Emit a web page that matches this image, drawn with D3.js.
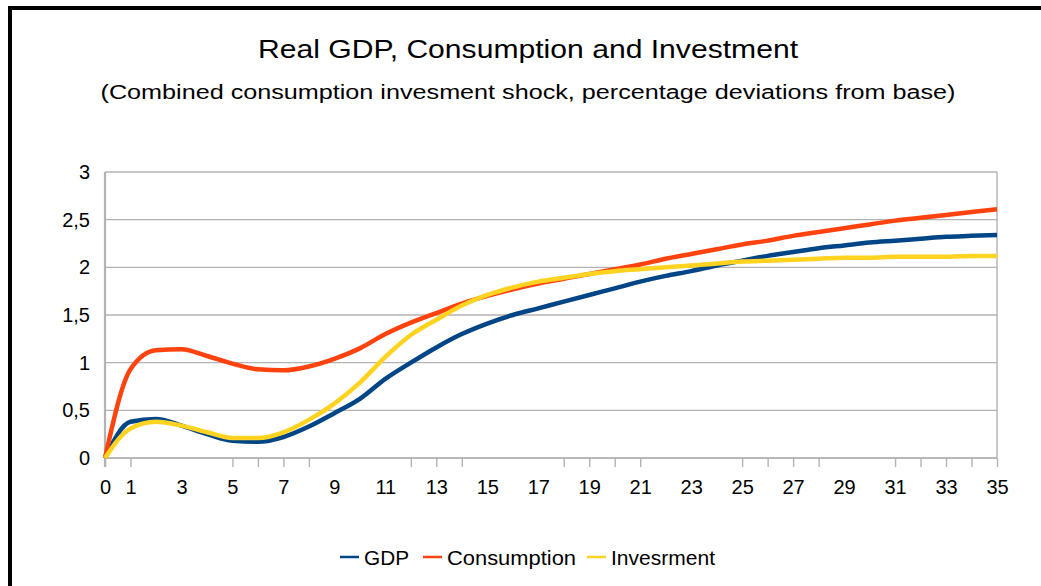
<!DOCTYPE html>
<html>
<head>
<meta charset="utf-8">
<script src="https://cdn.jsdelivr.net/npm/d3@7"></script>
<style>
  body { margin: 0; background: #fff; }
  svg { display: block; font-family: "Liberation Sans", Arial, sans-serif; }
</style>
</head>
<body>
<div id="chart"></div>
<script>
// -------- Data --------
const periods = d3.range(0, 36);

const gdp = [0, 0.38, 0.41, 0.34, 0.25, 0.18, 0.17, 0.22, 0.33, 0.47,
  0.62, 0.83, 1.00, 1.16, 1.30, 1.41, 1.50, 1.57, 1.64, 1.71,
  1.78, 1.85, 1.91, 1.96, 2.02, 2.07, 2.12, 2.16, 2.20, 2.23,
  2.26, 2.28, 2.30, 2.32, 2.33, 2.34];

const consumption = [0, 0.93, 1.13, 1.14, 1.07, 0.99, 0.93, 0.92, 0.96, 1.04,
  1.15, 1.30, 1.42, 1.52, 1.62, 1.70, 1.77, 1.83, 1.88, 1.93,
  1.98, 2.03, 2.09, 2.14, 2.19, 2.24, 2.28, 2.33, 2.37, 2.41,
  2.45, 2.49, 2.52, 2.55, 2.58, 2.61];

const investment = [0, 0.31, 0.38, 0.34, 0.27, 0.21, 0.21, 0.27, 0.40, 0.57,
  0.79, 1.06, 1.29, 1.45, 1.60, 1.71, 1.79, 1.85, 1.89, 1.93,
  1.96, 1.98, 2.00, 2.02, 2.04, 2.06, 2.07, 2.08, 2.09, 2.10,
  2.10, 2.11, 2.11, 2.11, 2.12, 2.12];

const seriesNames = ["GDP", "Consumption", "Invesrment"];
const seriesColors = ["#004586", "#ff420e", "#ffd320"];

const yTicks = [0, 0.5, 1, 1.5, 2, 2.5, 3];
const xTickMarks = [0, 1, 5, 6, 7, 8, 12, 13, 14, 18, 19, 20, 21, 25, 26, 27, 28, 31, 32, 33, 34, 35];
const xTickLabels = [0, 1, 3, 5, 7, 9, 11, 13, 15, 17, 19, 21, 23, 25, 27, 29, 31, 33, 35];

const titleText = "Real GDP, Consumption and Investment";
const subtitleText = "(Combined consumption invesment shock, percentage deviations from base)";

// -------- Layout --------
const width = 1041;
const height = 586;

const svg = d3.select("#chart")
  .append("svg")
  .attr("width", width)
  .attr("height", height);

const x = d3.scaleLinear().domain([0, 35]).range([105, 997]);
const y = d3.scaleLinear().domain([0, 3]).range([458, 172]);

// frame (left + top only, like the screenshot)
svg.append("path")
  .attr("d", `M10,${height} V8 H${width}`)
  .attr("fill", "none")
  .attr("stroke", "#000")
  .attr("stroke-width", 4);

// -------- Titles --------
// the original text is rendered wide, so stretch the glyphs a bit
svg.append("text")
  .attr("x", 528)
  .attr("y", 58)
  .attr("text-anchor", "middle")
  .attr("font-size", 25)
  .attr("textLength", 540)
  .attr("lengthAdjust", "spacingAndGlyphs")
  .text(titleText);

svg.append("text")
  .attr("x", 528)
  .attr("y", 99)
  .attr("text-anchor", "middle")
  .attr("font-size", 20)
  .attr("textLength", 855)
  .attr("lengthAdjust", "spacingAndGlyphs")
  .text(subtitleText);

// -------- Grid --------
svg.append("g")
  .selectAll("line")
  .data(yTicks)
  .join("line")
  .attr("x1", x(0))
  .attr("x2", x(35))
  .attr("y1", d => y(d))
  .attr("y2", d => y(d))
  .attr("stroke", "#b3b3b3")
  .attr("stroke-width", 1.4);

// right border of plot area
svg.append("line")
  .attr("x1", x(35)).attr("x2", x(35))
  .attr("y1", y(3)).attr("y2", y(0))
  .attr("stroke", "#b3b3b3")
  .attr("stroke-width", 1.4);

// -------- Axes --------
const yAxis = svg.append("g")
  .attr("transform", `translate(${x(0)},0)`)
  .call(d3.axisLeft(y).tickValues(yTicks).tickSize(0).tickPadding(15)
    .tickFormat(d => String(d).replace(".", ",")));
yAxis.select(".domain").remove();
yAxis.selectAll("text")
  .attr("font-size", 20)
  .attr("fill", "#000")
  .attr("font-family", "Liberation Sans, Arial, sans-serif");

// tick marks (irregular, like the original)
const xMarks = svg.append("g")
  .attr("transform", `translate(0,${y(0)})`)
  .call(d3.axisBottom(x).tickValues(xTickMarks).tickSize(9).tickFormat(""));
xMarks.select(".domain").remove();
xMarks.selectAll("line").attr("stroke", "#b3b3b3").attr("stroke-width", 1.4);

const xLabels = svg.append("g")
  .attr("transform", `translate(0,${y(0)})`)
  .call(d3.axisBottom(x).tickValues(xTickLabels).tickSize(0).tickPadding(22));
xLabels.select(".domain").remove();
xLabels.selectAll("text")
  .attr("font-size", 20)
  .attr("fill", "#000")
  .attr("font-family", "Liberation Sans, Arial, sans-serif");

// axis lines
svg.append("line")
  .attr("x1", x(0)).attr("x2", x(35))
  .attr("y1", y(0)).attr("y2", y(0))
  .attr("stroke", "#b3b3b3").attr("stroke-width", 1.6);
svg.append("line")
  .attr("x1", x(0)).attr("x2", x(0))
  .attr("y1", y(3)).attr("y2", y(0) + 9)
  .attr("stroke", "#b3b3b3").attr("stroke-width", 2.2);

// -------- Lines --------
const line = d3.line()
  .x((d, i) => x(periods[i]))
  .y(d => y(d))
  .curve(d3.curveMonotoneX);

// investment is drawn last in the original (sits on top)
const allSeries = [gdp, consumption, investment];

svg.append("g")
  .selectAll("path")
  .data(allSeries)
  .join("path")
  .attr("d", line)
  .attr("fill", "none")
  .attr("stroke", (d, i) => seriesColors[i])
  .attr("stroke-width", 4.5)
  .attr("stroke-linejoin", "round");

// -------- Legend --------
const legendX = [340, 423, 587];
const legendTextLen = [45, 129, 104];

const legend = svg.append("g")
  .selectAll("g")
  .data(seriesNames)
  .join("g")
  .attr("transform", (d, i) => `translate(${legendX[i]},557)`);

legend.append("line")
  .attr("x1", 0).attr("x2", 19)
  .attr("stroke", (d, i) => seriesColors[i])
  .attr("stroke-width", 2.5);

legend.append("text")
  .attr("x", 24)
  .attr("y", 8)
  .attr("font-size", 20)
  .attr("textLength", (d, i) => legendTextLen[i])
  .attr("lengthAdjust", "spacingAndGlyphs")
  .text(d => d);
</script>
</body>
</html>
